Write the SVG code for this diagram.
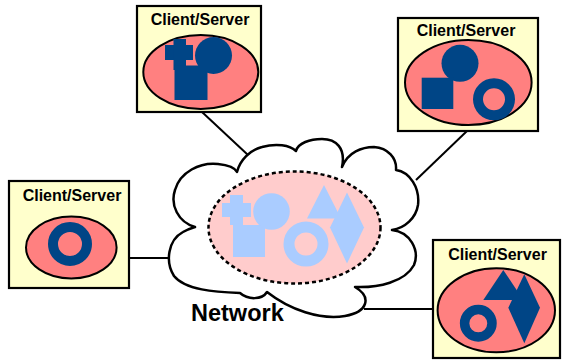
<svg xmlns="http://www.w3.org/2000/svg" width="565" height="362" viewBox="0 0 565 362">
<style>
.box{fill:#ffffcc;stroke:#000;stroke-width:2.2}
.ell{fill:#ff8080;stroke:#000;stroke-width:2}
.dk{fill:#004586}
.dkr{fill:none;stroke:#004586}
.lt{fill:#aaccff}
.ltr{fill:none;stroke:#aaccff}
.ttl{font-family:"Liberation Sans",Arial,sans-serif;font-weight:bold;font-size:16px;fill:#000;text-anchor:middle}
.conn{stroke:#000;stroke-width:2;fill:none}
</style>
<g id="connectors">
<line class="conn" x1="202" y1="112" x2="248" y2="155"/>
<line class="conn" x1="467" y1="131" x2="416" y2="180"/>
<line class="conn" x1="129" y1="258" x2="169" y2="258"/>
<line class="conn" x1="364" y1="309" x2="433" y2="309"/>
</g>
<g id="network">
<path d="M195,227 C178,222 170,205 175,190 C180,172 200,162 218,164 C228,165 235,168 237,172 C240,160 250,150 262,147 C276,143 290,145 296,151 C298,143 310,139 322,139 C336,139 346,148 342,167 C348,152 362,147 374,147 C388,148 397,158 396,170 C410,172 420,188 418,205 C416,218 405,228 392,230 C410,232 420,250 414,265 C405,282 378,288 355,287 C372,297 368,312 345,316 C320,320 290,310 267,292 C262,300 248,300 240,293 C215,292 185,290 174,276 C165,262 168,240 183,232 C188,229 192,228 195,227 Z" fill="#fff" stroke="#000" stroke-width="2.5" stroke-linejoin="round"/>
<ellipse cx="294.5" cy="227.5" rx="86" ry="56" fill="#ffcccc" stroke="#000" stroke-width="2.5" stroke-dasharray="4,3"/>
<rect class="lt" x="222" y="203" width="29" height="14"/>
<rect class="lt" x="230" y="195" width="13" height="30"/>
<rect class="lt" x="233" y="225" width="32" height="32"/>
<circle class="lt" cx="271.5" cy="211.5" r="18.3"/>
<circle class="ltr" cx="306" cy="244" r="17" stroke-width="11"/>
<polygon class="lt" points="324,185 341,218.5 307,218.5"/>
<polygon class="lt" points="347,192.5 364,227.5 347,263.5 330,227.5"/>
<text x="191" y="321" font-family="Liberation Sans, Arial, sans-serif" font-weight="bold" font-size="23.5" fill="#000">Network</text>
</g>
<g id="cs1">
<rect class="box" x="137" y="6" width="124" height="106"/>
<text class="ttl" x="200" y="25">Client/Server</text>
<ellipse class="ell" cx="200.8" cy="72" rx="57.5" ry="37"/>
<rect class="dk" x="165" y="45" width="28" height="15"/>
<rect class="dk" x="173.5" y="39" width="12.5" height="31"/>
<rect class="dk" x="174.5" y="65.5" width="33" height="34.5"/>
<circle class="dk" cx="213.5" cy="55.5" r="18.5"/>
</g>
<g id="cs2">
<rect class="box" x="398" y="18" width="140" height="113"/>
<text class="ttl" x="466" y="36">Client/Server</text>
<ellipse class="ell" cx="468.3" cy="82.5" rx="63.3" ry="42.5"/>
<circle class="dk" cx="460" cy="63.3" r="18.5"/>
<rect class="dk" x="421.7" y="77.7" width="31.6" height="31.3"/>
<circle class="dkr" cx="494" cy="99.3" r="16" stroke-width="10"/>
</g>
<g id="cs3">
<rect class="box" x="9" y="181" width="120" height="107"/>
<text class="ttl" x="72" y="201">Client/Server</text>
<ellipse class="ell" cx="71.3" cy="247.5" rx="45.3" ry="31"/>
<circle class="dkr" cx="70" cy="244" r="17" stroke-width="10"/>
</g>
<g id="cs4">
<rect class="box" x="433" y="240" width="127" height="118"/>
<text class="ttl" x="497.5" y="260">Client/Server</text>
<ellipse class="ell" cx="496.3" cy="310.3" rx="58.7" ry="42"/>
<polygon class="dk" points="503.3,270 523.3,300 483.3,300"/>
<polygon class="dk" points="524.3,274.3 540,307.7 524.3,343.3 508.3,307.7"/>
<circle class="dkr" cx="478.3" cy="323.3" r="13.7" stroke-width="9.5"/>
</g>
</svg>
